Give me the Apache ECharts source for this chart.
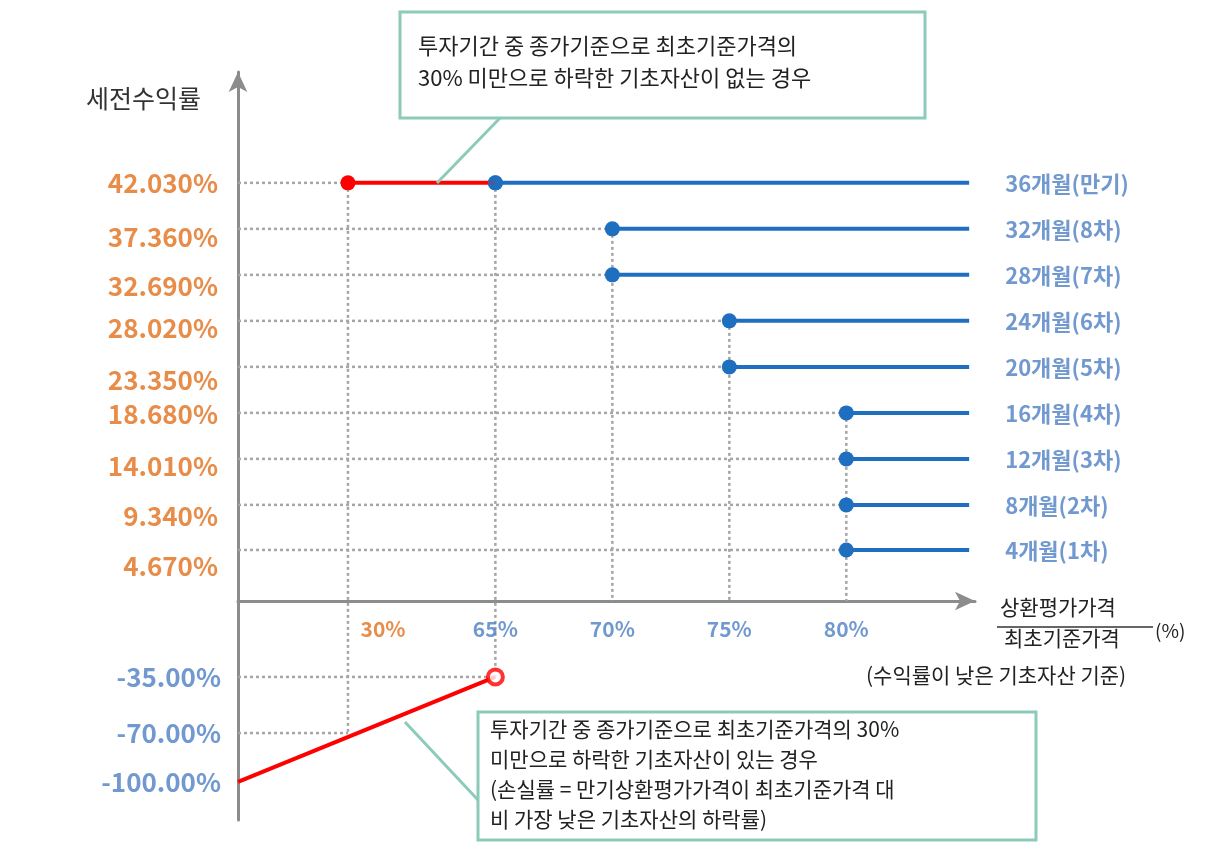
<!DOCTYPE html>
<html><head><meta charset="utf-8">
<script src="https://cdn.jsdelivr.net/npm/echarts@6/dist/echarts.min.js"></script>
<style>html,body{margin:0;background:#fff}#c{width:1216px;height:860px}</style>
</head><body><div id="c"></div>
<script>
// schematic positions (units)
const periods = ['36개월(만기)','32개월(8차)','28개월(7차)','24개월(6차)','20개월(5차)','16개월(4차)','12개월(3차)','8개월(2차)','4개월(1차)'];
const rowLevels = [9.09,8.09,7.09,6.09,5.09,4.09,3.09,2.09,1.11];
const barrierX = [2.2,3.2,3.2,4.2,4.2,5.2,5.2,5.2,5.2];
const lineEnd = 6.25;
const yLabels = ['42.030%','37.360%','32.690%','28.020%','23.350%','18.680%','14.010%','9.340%','4.670%'];
const yLabelLevels = [9.09,7.91,6.85,5.93,4.80,4.07,2.93,1.85,0.76];
const negLabels = ['-35.00%','-70.00%','-100.00%'];
const negLevels = [-1.65,-2.87,-3.93];
const xTicks = ['30%','65%','70%','75%','80%'];
const xTickPos = [0.94,2.2,3.2,4.2,5.2];
const kiX = 0.94;

const F = '"Noto Sans CJK KR", "Noto Sans", sans-serif';
const BLUE = '#1F6FC0', LBLUE = '#4D80C4', ORANGE = '#E2701C', RED = '#FF0000', GRAY = '#A6A6A6', TEAL = '#8CCBB9';
const series = [];
const dotted = (pts) => series.push({type:'line', data:pts, symbol:'none', silent:true, lineStyle:{color:GRAY,width:2.5,type:[3,3]}, z:1});

periods.forEach((p,i)=>{ dotted([[0,rowLevels[i]],[i===0?kiX:barrierX[i],rowLevels[i]]]); });
dotted([[0,negLevels[0]],[2.2,negLevels[0]]]);
dotted([[0,negLevels[1]],[kiX,negLevels[1]]]);
dotted([[kiX,rowLevels[0]],[kiX,negLevels[1]]]);
dotted([[2.2,rowLevels[0]],[2.2,negLevels[0]]]);
dotted([[3.2,rowLevels[1]],[3.2,0]]);
dotted([[4.2,rowLevels[3]],[4.2,0]]);
dotted([[5.2,rowLevels[5]],[5.2,0]]);

periods.forEach((p,i)=>{
  series.push({type:'line', z:3, data:[[barrierX[i],rowLevels[i]],[lineEnd,rowLevels[i]]],
    symbol:'circle', symbolSize:(v,pr)=>pr.dataIndex===0?15:0, showSymbol:true,
    itemStyle:{color:BLUE}, lineStyle:{color:BLUE,width:4}});
});
series.push({type:'line', z:4, data:[[kiX,rowLevels[0]],[2.2,rowLevels[0]]], symbol:'circle',
  symbolSize:(v,pr)=>pr.dataIndex===0?15:0, itemStyle:{color:RED}, lineStyle:{color:RED,width:4}});
series.push({type:'scatter', z:5, data:[[2.2,rowLevels[0]]], symbolSize:15, itemStyle:{color:BLUE}});
series.push({type:'line', z:4, data:[[0,negLevels[2]],[2.2,negLevels[0]]], symbol:'none', lineStyle:{color:RED,width:4}});
series.push({type:'scatter', z:5, data:[[2.2,negLevels[0]]], symbolSize:15, itemStyle:{color:'#fff',borderColor:RED,borderWidth:4}});

const txt = (data, style) => series.push({type:'scatter', symbolSize:0, silent:true, clip:false, data,
  label:{show:true, position:'inside', formatter:p=>p.data[2], fontFamily:F, ...style}});
txt(yLabels.map((t,i)=>[0,yLabelLevels[i],t]), {color:ORANGE,fontSize:26,fontWeight:'bold',align:'right',offset:[-20,0]});
txt(negLabels.map((t,i)=>[0,negLevels[i],t]), {color:LBLUE,fontSize:26,fontWeight:'bold',align:'right',offset:[-17,0]});
txt(periods.map((t,i)=>[lineEnd,rowLevels[i],t]), {color:LBLUE,fontSize:22,fontWeight:'bold',align:'left',offset:[36,1]});
txt(xTicks.map((t,i)=>[xTickPos[i],-0.6,t]), {color:LBLUE,fontSize:21,fontWeight:'bold',align:'center'});
series[series.length-1].data[0] = {value:[1.24,-0.6,'30%'], label:{color:ORANGE}};
series[series.length-1].label.formatter = p=>Array.isArray(p.data)?p.data[2]:p.data.value[2];

const chart = echarts.init(document.getElementById('c'));
chart.setOption({
  animation:false,
  grid:{left:238,right:241,top:72,bottom:40},
  xAxis:{type:'value',min:0,max:6.3,splitLine:{show:false},axisTick:{show:false},axisLabel:{show:false},
    axisLine:{onZero:true,symbol:['none','arrow'],symbolSize:[14,20],lineStyle:{color:'#8C8C8C',width:3}}},
  yAxis:{type:'value',min:-4.76,max:11.5,splitLine:{show:false},axisTick:{show:false},axisLabel:{show:false},
    axisLine:{onZero:true,symbol:['none','arrow'],symbolSize:[14,20],lineStyle:{color:'#8C8C8C',width:3}}},
  series,
  graphic:[
    {type:'text',left:86,top:86,style:{text:'세전수익률',font:'25px '+F,fill:'#333'}},
    {type:'text',left:1000,top:597,style:{text:'상환평가가격',font:'21px '+F,fill:'#222'}},
    {type:'line',shape:{x1:997,y1:627,x2:1153,y2:627},style:{stroke:'#333',lineWidth:1.5}},
    {type:'text',left:1004,top:628,style:{text:'최초기준가격',font:'21px '+F,fill:'#222'}},
    {type:'text',left:1155,top:621,style:{text:'(%)',font:'19px '+F,fill:'#222'}},
    {type:'text',left:866,top:665,style:{text:'(수익률이 낮은 기초자산 기준)',font:'21px '+F,fill:'#222'}},
    {type:'line',shape:{x1:500,y1:118,x2:437,y2:183},style:{stroke:TEAL,lineWidth:3},z:10},
    {type:'rect',shape:{x:400,y:12,width:525,height:106},style:{fill:'#fff',stroke:TEAL,lineWidth:3},z:10},
    {type:'text',left:418,top:30,z:11,style:{text:'투자기간 중 종가기준으로 최초기준가격의\n30% 미만으로 하락한 기초자산이 없는 경우',font:'22px '+F,fill:'#222',lineHeight:32}},
    {type:'line',shape:{x1:478,y1:800,x2:405,y2:722},style:{stroke:TEAL,lineWidth:3},z:10},
    {type:'rect',shape:{x:478,y:712,width:558,height:128},style:{fill:'#fff',stroke:TEAL,lineWidth:3},z:10},
    {type:'text',left:490,top:714,z:11,style:{text:'투자기간 중 종가기준으로 최초기준가격의 30%\n미만으로 하락한 기초자산이 있는 경우\n(손실률 = 만기상환평가가격이 최초기준가격 대\n비 가장 낮은 기초자산의 하락률)',font:'21px '+F,fill:'#222',lineHeight:30}}
  ]
});
</script></body></html>
